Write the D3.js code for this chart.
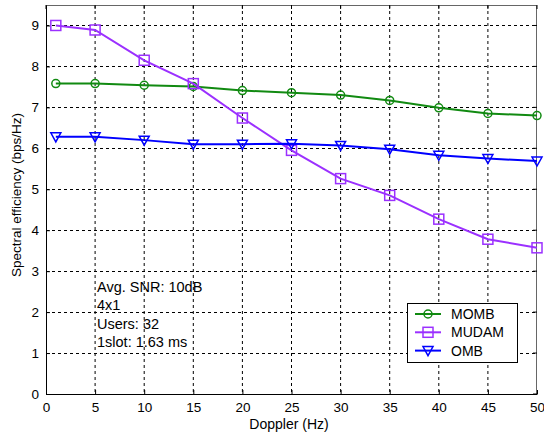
<!DOCTYPE html>
<html><head><meta charset="utf-8">
<script src="https://cdn.jsdelivr.net/npm/d3@7"></script>
<style>body{margin:0;background:#fff}svg{display:block}text{font-family:Arial,"Liberation Sans",sans-serif}</style>
</head><body><svg id="c" width="544" height="437"></svg>
<script>
const doppler = [1,5,10,15,20,25,30,35,40,45,50];
const momb  = [7.58,7.58,7.54,7.51,7.41,7.36,7.30,7.17,6.99,6.85,6.80];
const mudam = [9.00,8.89,8.15,7.58,6.74,5.95,5.26,4.85,4.27,3.78,3.57];
const omb   = [6.28,6.28,6.20,6.10,6.10,6.11,6.07,5.98,5.83,5.75,5.69];
const xTicks = [0,5,10,15,20,25,30,35,40,45,50];
const yTicks = [0,1,2,3,4,5,6,7,8,9];
const seriesNames = ["MOMB","MUDAM","OMB"];
const seriesColors = ["#118a11","#9b30ff","#0000ff"];
const seriesMarkers = ["circle","square","triangle"];
const annotation = ["Avg. SNR: 10dB","4x1","Users: 32","1slot: 1.63 ms"];

const svg = d3.select("#c");
const L=46,R=537,T=5,B=394;
const x = d3.scaleLinear().domain([0,50]).range([L,R]);
const y = d3.scaleLinear().domain([0,9.5]).range([B,T]);

// grid
const g = svg.append("g");
xTicks.slice(1,-1).forEach(t=>g.append("line").attr("x1",x(t)).attr("x2",x(t)).attr("y1",T).attr("y2",B)
  .attr("stroke","#000").attr("stroke-width",1).attr("stroke-dasharray","3,3"));
yTicks.slice(1).forEach(t=>g.append("line").attr("x1",L).attr("x2",R).attr("y1",Math.round(y(t))+0.5).attr("y2",Math.round(y(t))+0.5)
  .attr("stroke","#000").attr("stroke-width",1).attr("stroke-dasharray","3,3"));

// box
svg.append("line").attr("x1",L).attr("x2",R).attr("y1",T+0.5).attr("y2",T+0.5).attr("stroke","#666");
svg.append("line").attr("x1",R-0.5).attr("x2",R-0.5).attr("y1",T).attr("y2",B).attr("stroke","#666");

// axes
const xa = svg.append("g").attr("transform",`translate(0,${B})`)
  .call(d3.axisBottom(x).tickValues(xTicks).tickSizeInner(-4).tickSizeOuter(0).tickPadding(8));
const ya = svg.append("g").attr("transform",`translate(${L},0)`)
  .call(d3.axisLeft(y).tickValues(yTicks).tickSizeInner(-4).tickSizeOuter(0).tickPadding(7));
[xa,ya].forEach(a=>{a.selectAll("text").attr("font-size",13.5).attr("fill","#000").style("font-family","Arial,'Liberation Sans',sans-serif");
  a.selectAll("line").attr("stroke","#000"); a.select(".domain").attr("stroke","#000");});
// top/right ticks
xTicks.forEach(t=>svg.append("line").attr("x1",x(t)).attr("x2",x(t)).attr("y1",T).attr("y2",T+4).attr("stroke","#000"));
yTicks.forEach(t=>svg.append("line").attr("x1",R-4).attr("x2",R).attr("y1",y(t)).attr("y2",y(t)).attr("stroke","#000"));

svg.append("text").attr("x",289).attr("y",429).attr("text-anchor","middle").attr("font-size",14).text("Doppler (Hz)");
svg.append("text").attr("transform","translate(21,195) rotate(-90)").attr("text-anchor","middle").attr("font-size",13.5).text("Spectral efficiency (bps/Hz)");

function marker(sel, type, cx, cy, color){
  if(type==="circle") sel.append("circle").attr("cx",cx).attr("cy",cy).attr("r",4).attr("fill","none").attr("stroke",color).attr("stroke-width",1.5);
  else if(type==="square") sel.append("rect").attr("x",cx-5).attr("y",cy-5).attr("width",10).attr("height",10).attr("fill","none").attr("stroke",color).attr("stroke-width",1.5);
  else sel.append("path").attr("d",`M${cx-5},${cy-4}L${cx+5},${cy-4}L${cx},${cy+5}Z`).attr("fill","none").attr("stroke",color).attr("stroke-width",1.5);
}

const data = [momb,mudam,omb];
const line = d3.line().x((d,i)=>x(doppler[i])).y(d=>y(d));
data.forEach((s,k)=>{
  svg.append("path").attr("d",line(s)).attr("fill","none").attr("stroke",seriesColors[k]).attr("stroke-width",2);
  s.forEach((v,i)=>marker(svg,seriesMarkers[k],x(doppler[i]),y(v),seriesColors[k]));
});

// annotation
annotation.forEach((t,i)=>svg.append("text").attr("x",97).attr("y",292+i*18.3).attr("font-size",14.5).text(t));

// legend
const lg = svg.append("g");
lg.append("rect").attr("x",407.5).attr("y",303.5).attr("width",110).attr("height",59).attr("fill","#fff").attr("stroke","#000");
seriesNames.forEach((n,k)=>{
  const yy = 314+k*18.3;
  lg.append("line").attr("x1",415).attr("x2",441).attr("y1",yy).attr("y2",yy).attr("stroke",seriesColors[k]).attr("stroke-width",2);
  marker(lg,seriesMarkers[k],428,yy,seriesColors[k]);
  lg.append("text").attr("x",451).attr("y",yy+5).attr("font-size",14).text(n);
});
</script></body></html>
